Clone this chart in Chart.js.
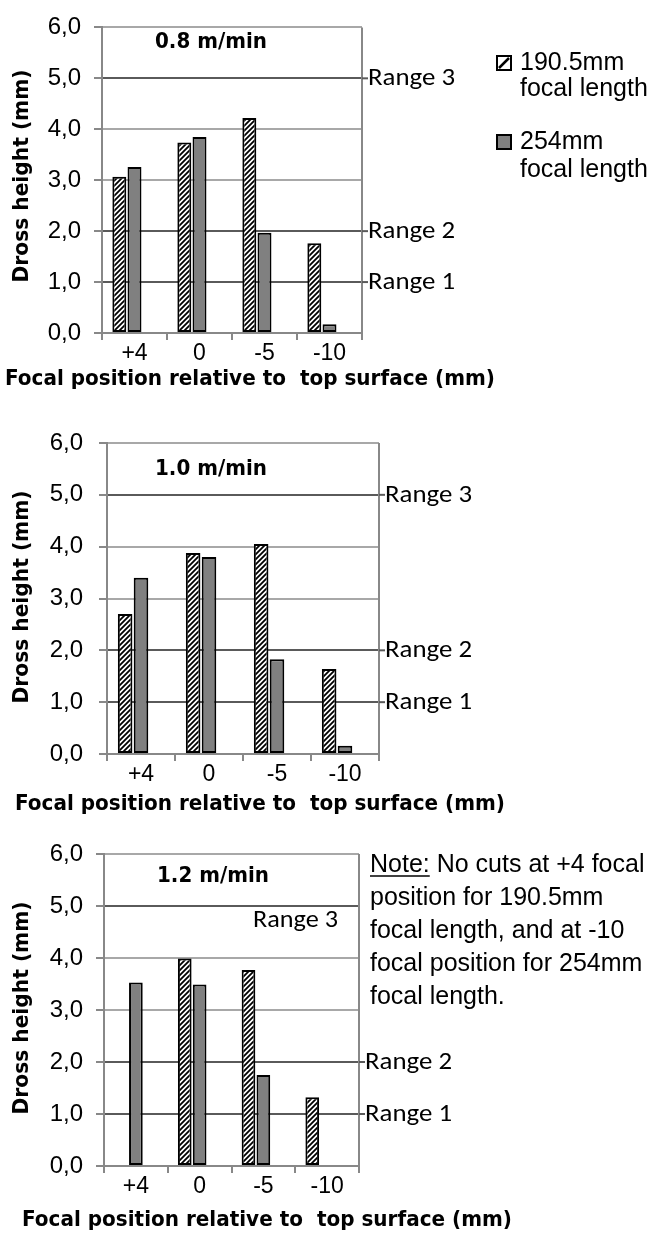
<!DOCTYPE html>
<html>
<head>
<meta charset="utf-8">
<script src="https://cdn.jsdelivr.net/npm/chart.js@4.4.0/dist/chart.umd.min.js"></script>
<style>
  html, body { margin: 0; padding: 0; background: #fff; }
  #wrap { position: relative; width: 664px; height: 1235px; overflow: hidden; }
  #wrap canvas { position: absolute; left: 0; }
</style>
</head>
<body>
<div id="wrap">
  <canvas id="c1" width="664" height="405" style="top:0"></canvas>
  <canvas id="c2" width="664" height="415" style="top:405px"></canvas>
  <canvas id="c3" width="664" height="415" style="top:820px"></canvas>
</div>
<script>
// focal positions relative to top surface
const categories = ['+4', '0', '-5', '-10'];
const seriesLabels = ['190.5mm focal length', '254mm focal length'];
const speeds = ['0.8 m/min', '1.0 m/min', '1.2 m/min'];

// dross height (mm)
const hatched08 = [3.07, 3.74, 4.22, 1.76];
const grey08 = [3.26, 3.85, 1.97, 0.17];
const hatched10 = [2.70, 3.88, 4.05, 1.64];
const grey10 = [3.40, 3.80, 1.83, 0.16];
const hatched12 = [null, 3.99, 3.77, 1.32];
const grey12 = [3.53, 3.49, 1.75, null];

const rangeValues = [1, 2, 5];
const rangeLabels = ['Range 1', 'Range 2', 'Range 3'];

const xTitle = 'Focal position relative to  top surface (mm)';
const yTitle = 'Dross height (mm)';
const noteLines = [
  ' No cuts at +4 focal',
  'position for 190.5mm',
  'focal length, and at -10',
  'focal position for 254mm',
  'focal length.'
];

const ARIAL = '"Liberation Sans", Arial, sans-serif';
const BOLD = '"DejaVu Sans", "Liberation Sans", sans-serif';
const CALIBRI = 'Carlito, "Open Sans", sans-serif';

function makeHatch(period) {
  const c = document.createElement('canvas');
  c.width = period; c.height = period;
  const g = c.getContext('2d');
  g.fillStyle = '#fff';
  g.fillRect(0, 0, period, period);
  g.strokeStyle = '#000';
  g.lineWidth = 1.8;
  g.beginPath();
  g.moveTo(0, period); g.lineTo(period, 0);
  g.moveTo(-1, 1); g.lineTo(1, -1);
  g.moveTo(period - 1, period + 1); g.lineTo(period + 1, period - 1);
  g.stroke();
  return g.createPattern(c, 'repeat');
}
const hatch = makeHatch(5);

// draw text squeezed/stretched to a given width
function fitText(ctx, text, x, y, width, align) {
  const natural = ctx.measureText(text).width;
  const sx = width ? width / natural : 1;
  ctx.save();
  ctx.translate(x, y);
  ctx.scale(sx, 1);
  ctx.textAlign = align || 'left';
  ctx.fillText(text, 0, 0);
  ctx.restore();
}

const decor = {
  id: 'decor',
  afterDraw(chart, args, o) {
    const { ctx, chartArea: a } = chart;
    const y = chart.scales.y;
    ctx.save();
    ctx.fillStyle = '#000';
    ctx.textBaseline = 'middle';

    // right border of the plot
    ctx.strokeStyle = '#888';
    ctx.lineWidth = 2;
    ctx.beginPath();
    ctx.moveTo(a.right, a.top);
    ctx.lineTo(a.right, a.bottom);
    ctx.stroke();

    // range markers
    ctx.font = '24px ' + CALIBRI;
    rangeValues.forEach((v, i) => {
      const py = y.getPixelForValue(v);
      if (o.insideRange3 && v === 5) {
        fitText(ctx, rangeLabels[i], a.right - 21, py + 15, 85, 'right');
        return;
      }
      ctx.strokeStyle = '#5a5a5a';
      ctx.beginPath();
      ctx.moveTo(a.right, py);
      ctx.lineTo(o.rangeX, py);
      ctx.stroke();
      fitText(ctx, rangeLabels[i], o.rangeX, py + 1, 87);
    });

    // speed title
    ctx.font = 'bold 21px ' + BOLD;
    fitText(ctx, o.speed, o.titleX, o.titleY, 112);

    // axis titles
    fitText(ctx, xTitle, o.xTitleX, o.xTitleY, 490);
    ctx.save();
    ctx.translate(o.yTitleX, o.yTitleY);
    ctx.rotate(-Math.PI / 2);
    fitText(ctx, yTitle, 0, 0, 213, 'center');
    ctx.restore();

    // legend
    if (o.legend) {
      ctx.font = '25px ' + ARIAL;
      const rows = [[63, 89], [142, 170]];
      chart.data.datasets.slice(0, 2).forEach((ds, i) => {
        const by = rows[i][0] - 7;
        ctx.fillStyle = i === 0 ? '#fff' : ds.backgroundColor;
        ctx.fillRect(497, by, 14, 14);
        ctx.strokeStyle = '#000';
        ctx.lineWidth = 2;
        ctx.strokeRect(497, by, 14, 14);
        if (i === 0) {
          ctx.lineWidth = 2.5;
          ctx.beginPath();
          ctx.moveTo(499, by + 12);
          ctx.lineTo(509, by + 2);
          ctx.stroke();
        }
        ctx.fillStyle = '#000';
        const sp = ds.label.indexOf(' ');
        ctx.textAlign = 'left';
        ctx.fillText(ds.label.slice(0, sp), 520, rows[i][0]);
        ctx.fillText(ds.label.slice(sp + 1), 520, rows[i][1]);
      });
    }

    // note
    if (o.note) {
      ctx.font = '25px ' + ARIAL;
      ctx.textAlign = 'left';
      const nx = 370;
      noteLines.forEach((t, i) => {
        const ly = 45 + i * 33;
        if (i === 0) {
          ctx.fillText('Note:', nx, ly);
          const w = ctx.measureText('Note:').width;
          ctx.strokeStyle = '#000';
          ctx.lineWidth = 1.5;
          ctx.beginPath();
          ctx.moveTo(nx, ly + 11);
          ctx.lineTo(nx + w, ly + 11);
          ctx.stroke();
          ctx.fillText(t, nx + w, ly);
        } else {
          ctx.fillText(t, nx, ly);
        }
      });
    }
    ctx.restore();
  }
};

function panel(id, hatchedData, greyData, L) {
  const canvas = document.getElementById(id);
  const H = canvas.height;
  return new Chart(canvas, {
    type: 'bar',
    plugins: [decor],
    data: {
      labels: categories,
      datasets: [
        { label: seriesLabels[0], data: hatchedData, backgroundColor: hatch },
        { label: seriesLabels[1], data: greyData, backgroundColor: '#808080' },
        { label: '', data: [], backgroundColor: 'transparent', borderWidth: 0 }
      ]
    },
    options: {
      responsive: false,
      animation: false,
      layout: { padding: { top: L.top, right: 664 - L.right, bottom: 0, left: 0 } },
      datasets: {
        bar: {
          categoryPercentage: 0.7,
          barPercentage: 0.92,
          borderColor: '#000',
          borderWidth: 2,
          borderSkipped: false
        }
      },
      scales: {
        x: {
          grid: { offset: true, drawOnChartArea: false, tickLength: 7, color: '#888', lineWidth: 2 },
          border: { color: '#888', width: 2 },
          ticks: { color: '#000', font: { family: ARIAL, size: 23 }, padding: 0 },
          afterFit: s => { s.height = H - L.bottom; }
        },
        y: {
          min: 0,
          max: 6,
          ticks: {
            stepSize: 1,
            color: '#000',
            padding: L.tickPad,
            font: { family: ARIAL, size: 24 },
            callback: v => v.toFixed(1).replace('.', ',')
          },
          grid: {
            color: c => rangeValues.includes(c.tick.value) ? '#5a5a5a' : '#a8a8a8',
            lineWidth: 2,
            tickLength: 8,
            tickColor: '#888'
          },
          border: { color: '#888', width: 2 },
          afterFit: s => { s.width = L.left; }
        }
      },
      plugins: {
        legend: { display: false },
        tooltip: { enabled: false },
        decor: L
      }
    }
  });
}

panel('c1', hatched08, grey08, {
  left: 102, right: 362, top: 22, bottom: 333, tickPad: 13,
  speed: speeds[0], titleX: 155, titleY: 43,
  xTitleX: 5, xTitleY: 380, yTitleX: 23, yTitleY: 176,
  rangeX: 368, legend: true
});
panel('c2', hatched10, grey10, {
  left: 107, right: 379, top: 38, bottom: 349, tickPad: 16,
  speed: speeds[1], titleX: 155, titleY: 65,
  xTitleX: 15, xTitleY: 400, yTitleX: 23, yTitleY: 192,
  rangeX: 385
});
panel('c3', hatched12, grey12, {
  left: 104, right: 359, top: 34, bottom: 346, tickPad: 13,
  speed: speeds[2], titleX: 157, titleY: 57,
  xTitleX: 22, xTitleY: 401, yTitleX: 23, yTitleY: 188,
  rangeX: 365, insideRange3: true, note: true
});
</script>
</body>
</html>
